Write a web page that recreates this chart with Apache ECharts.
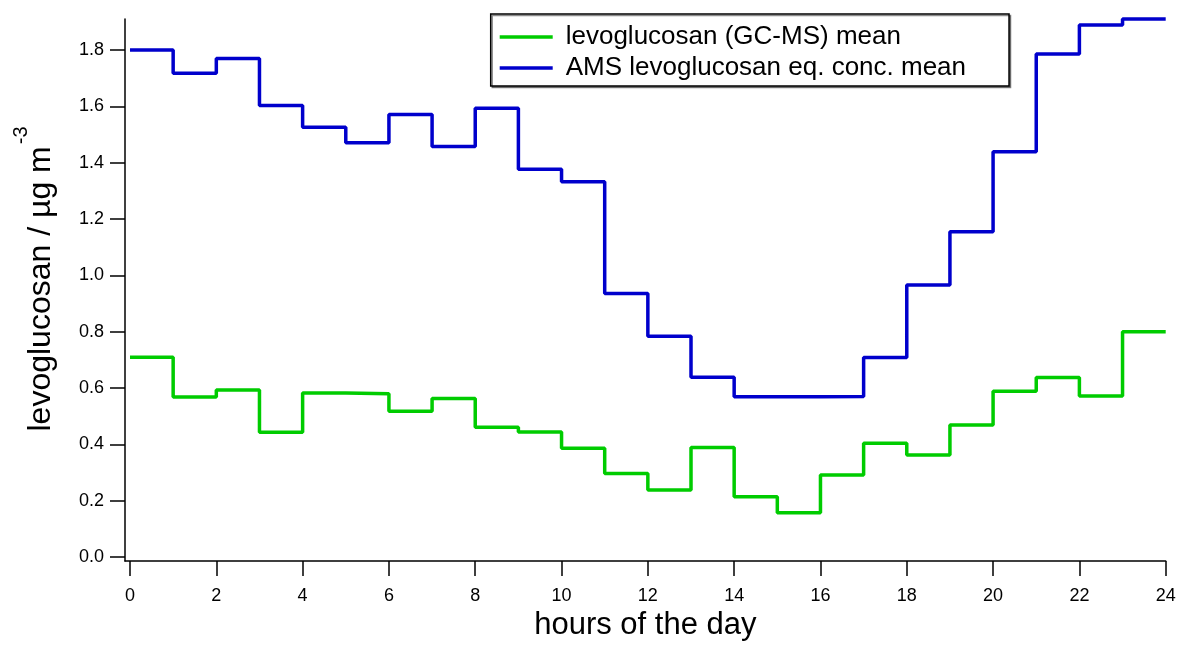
<!DOCTYPE html>
<html>
<head>
<meta charset="utf-8">
<script src="https://cdn.jsdelivr.net/npm/echarts@6/dist/echarts.min.js"></script>
<style>
html,body{margin:0;padding:0;background:#fff;}
#chart{width:1179px;height:646px;}
</style>
</head>
<body>
<div id="chart"></div>
<script>
// hours (start of each 1-h bin)
var hours = [0,1,2,3,4,5,6,7,8,9,10,11,12,13,14,15,16,17,18,19,20,21,22,23];
var gcmsMean = [0.709,0.568,0.593,0.443,0.582,0.580,0.518,0.563,0.461,0.444,0.386,0.297,0.238,0.389,0.214,0.157,0.291,0.404,0.362,0.469,0.589,0.637,0.572,0.800];
var amsMean = [1.800,1.717,1.770,1.603,1.526,1.471,1.571,1.457,1.593,1.377,1.332,0.936,0.784,0.638,0.569,0.569,0.570,0.708,0.966,1.155,1.439,1.786,1.889,1.910];
var xTicks = [0,2,4,6,8,10,12,14,16,18,20,22,24];
var yTicks = [0,0.2,0.4,0.6,0.8,1.0,1.2,1.4,1.6,1.8];
var seriesNames = ['levoglucosan (GC-MS) mean','AMS levoglucosan eq. conc. mean'];

function stepData(vals){
  var d = hours.map(function(h,i){ return [h, vals[i]]; });
  d.push([hours[hours.length-1]+1, vals[vals.length-1]]);
  return d;
}

var FONT = 'Liberation Sans, Arial, Helvetica, sans-serif';
var chart = echarts.init(document.getElementById('chart'));
chart.setOption({
  backgroundColor:'#fff',
  animation:false,
  textStyle:{fontFamily:FONT},
  grid:{left:125, right:13.3, top:19, bottom:85},
  legend:{
    orient:'vertical',
    left:490.7, top:14,
    padding:[9,43,4,9],
    itemGap:3,
    icon:'rect',
    itemWidth:53, itemHeight:3.5,
    borderColor:'#000', borderWidth:1.5,
    backgroundColor:'#fff',
    shadowColor:'rgba(0,0,0,0.45)', shadowOffsetX:1.5, shadowOffsetY:1.5, shadowBlur:0,
    textStyle:{fontFamily:FONT, fontSize:26, color:'#000', lineHeight:28, padding:[0,0,0,8]},
    data:seriesNames
  },
  xAxis:{
    type:'value', min:-0.116, max:24,
    name:'hours of the day', nameLocation:'middle', nameGap:48,
    nameTextStyle:{fontFamily:FONT, fontSize:31, color:'#000'},
    axisLine:{onZero:false, lineStyle:{color:'#000', width:1.5}},
    axisTick:{show:true, length:15, lineStyle:{color:'#000', width:1.5}, customValues:xTicks},
    axisLabel:{fontFamily:FONT, fontSize:18, color:'#000', margin:26, customValues:xTicks,
      formatter:function(v){return String(v);}},
    splitLine:{show:false}
  },
  yAxis:{
    type:'value', min:-0.014, max:1.910,
    name:'{pad|}{m|levoglucosan / µg m}{s|-3}', nameLocation:'middle', nameGap:68, nameRotate:90,
    nameTextStyle:{fontFamily:FONT, color:'#000',
      rich:{
        pad:{width:22, fontSize:32, lineHeight:46, verticalAlign:'bottom'},
        m:{fontFamily:FONT, fontSize:32, lineHeight:46, verticalAlign:'bottom', color:'#000'},
        s:{fontFamily:FONT, fontSize:20, lineHeight:20, padding:[0,0,0,2], verticalAlign:'top', color:'#000'}
      }},
    axisLine:{onZero:false, lineStyle:{color:'#000', width:1.5}},
    axisTick:{show:true, length:15, lineStyle:{color:'#000', width:1.5}, customValues:yTicks},
    axisLabel:{fontFamily:FONT, fontSize:18, color:'#000', margin:21, customValues:yTicks,
      formatter:function(v){return v.toFixed(1);}},
    splitLine:{show:false}
  },
  series:[
    {name:seriesNames[0], type:'line', step:'end', data:stepData(gcmsMean), symbol:'none', clip:false,
     lineStyle:{color:'#00cc00', width:3.5}, itemStyle:{color:'#00cc00'}},
    {name:seriesNames[1], type:'line', step:'end', data:stepData(amsMean), symbol:'none', clip:false,
     lineStyle:{color:'#0000cc', width:3.5}, itemStyle:{color:'#0000cc'}}
  ]
});
</script>
</body>
</html>
